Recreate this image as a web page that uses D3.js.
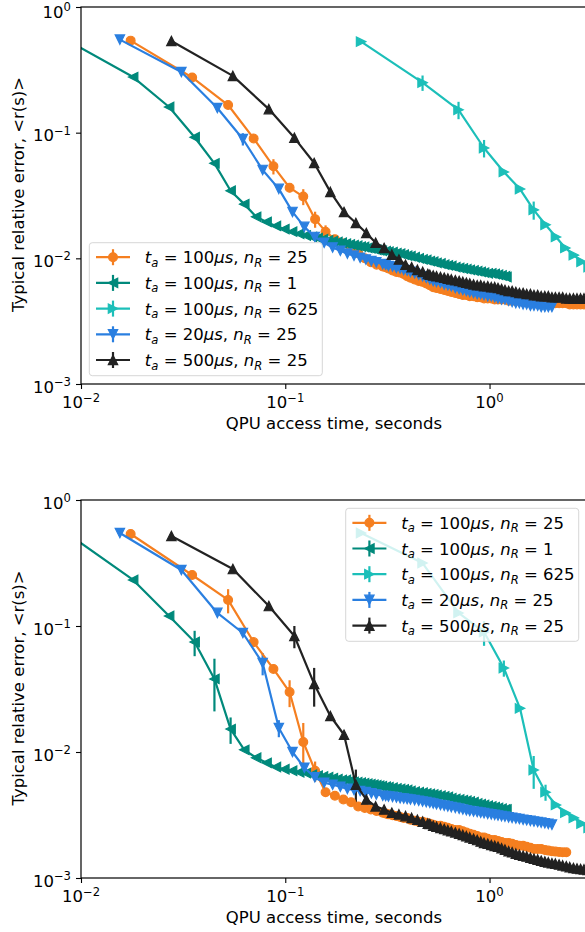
<!DOCTYPE html>
<html>
<head>
<meta charset="utf-8">
<script src="https://cdn.jsdelivr.net/npm/d3@7"></script>
<style>
  body { margin: 0; background: #fff; }
  svg { display: block; font-family: "DejaVu Sans", sans-serif; }
  text { white-space: pre; }
</style>
</head>
<body>
<div id="chart"></div>
<script>
// ---- data: top panel ----
const topOrangeT = [0.0175,0.035,0.0525,0.07,0.0875,0.105,0.1225,0.14,0.1575,0.175,0.1925,0.21,0.2275,0.245,0.2625,0.28,
  0.30,0.31,0.32,0.335,0.35,0.365,0.38,0.395,0.41,0.43,0.45,0.47,0.49,0.51,0.53,0.55,0.575,0.60,0.625,0.65,0.68,0.71,0.74,0.77,0.80,0.835,0.87,0.905,0.94,0.98,1.02,1.06,1.10,1.145,1.19,1.24,1.29,1.345,1.40,1.46,1.52,1.585,1.65,1.72,1.79,1.865,1.94,2.02,2.10,2.19,2.28,2.375,2.47,2.575,2.68,2.79,2.90];
const topOrangeR = [0.54,0.275,0.166,0.090,0.054,0.0365,0.031,0.0205,0.0163,0.0142,0.0131,0.0120,0.0110,0.0100,0.0093,0.0089,
  0.0086,0.0085,0.0083,0.0080,0.0078,0.0077,0.0075,0.0072,0.0070,0.0068,0.0066,0.0065,0.0063,0.0061,0.0059,0.0058,0.0057,0.0056,0.0055,0.0054,0.0053,0.0052,0.0051,0.0051,0.0050,0.0050,0.0049,0.0049,0.0048,0.0048,0.0048,0.0047,0.0047,0.0047,0.0047,0.0046,0.0046,0.0046,0.0046,0.0045,0.0045,0.0045,0.0045,0.0045,0.0045,0.0044,0.0044,0.0044,0.0044,0.0044,0.0044,0.0044,0.0043,0.0043,0.0043,0.0043,0.0043];
const topOrangeE = [0,0,0,0,0.0075,0.003,0.0045,0.003,0.002];

const topTealT = [0.009,0.018,0.027,0.036,0.045,0.054,0.063,0.072,0.081,0.090,0.099,0.108,0.117,0.126,0.135,0.144,0.153,0.162,0.171,0.18,0.189,0.198,0.207,0.216,0.225,0.234,0.243,0.252,0.261,0.270,0.279,0.288,0.297,
  0.31,0.32,0.335,0.35,0.365,0.38,0.395,0.41,0.43,0.45,0.47,0.49,0.51,0.53,0.55,0.575,0.60,0.625,0.65,0.68,0.71,0.74,0.77,0.80,0.835,0.87,0.905,0.94,0.98,1.02,1.06,1.10,1.145,1.19,1.21];
const topTealR = [0.52,0.277,0.160,0.092,0.057,0.0345,0.027,0.0214,0.0195,0.0181,0.0171,0.0163,0.0157,0.0152,0.0148,0.0145,0.0142,0.0139,0.0137,0.0135,0.0133,0.0131,0.0129,0.0127,0.0126,0.0124,0.0123,0.0121,0.0120,0.0119,0.0117,0.0116,0.0115,
  0.0114,0.0113,0.0112,0.0110,0.0109,0.0107,0.0105,0.0104,0.0102,0.0100,0.0098,0.0097,0.0095,0.0094,0.0092,0.0091,0.0089,0.0088,0.0087,0.0085,0.0084,0.0083,0.0082,0.0081,0.0080,0.0079,0.0078,0.0077,0.0076,0.0076,0.0075,0.0074,0.0073,0.0072,0.0071];
const topTealE = [];

const topCyanT = [0.235,0.47,0.705,0.94,1.175,1.41,1.645,1.88,2.115,2.35,2.585,2.82,3.055];
const topCyanR = [0.53,0.25,0.152,0.0755,0.0487,0.0356,0.0243,0.0185,0.0148,0.0121,0.0106,0.0094,0.0085];
const topCyanE = [0,0.035,0.024,0.012,0,0,0.004];

const topBlueT = [0.0155,0.031,0.0465,0.062,0.0775,0.093,0.1085,0.124,0.1395,0.155,0.1705,0.186,0.2015,0.217,0.2325,0.248,0.264,0.279,
  0.30,0.31,0.32,0.335,0.35,0.365,0.38,0.395,0.41,0.43,0.45,0.47,0.49,0.51,0.53,0.55,0.575,0.60,0.625,0.65,0.68,0.71,0.74,0.77,0.80,0.835,0.87,0.905,0.94,0.98,1.02,1.06,1.10,1.145,1.19,1.24,1.29,1.345,1.40,1.46,1.52,1.585,1.65,1.72,1.79,1.865,1.94,2.02];
const topBlueR = [0.55,0.304,0.157,0.089,0.0505,0.0357,0.0234,0.0178,0.0148,0.0133,0.0122,0.0115,0.0109,0.0105,0.0101,0.0098,0.0095,0.0093,
  0.0090,0.0089,0.0087,0.0086,0.0084,0.0083,0.0081,0.0080,0.0078,0.0076,0.0074,0.0072,0.0070,0.0068,0.0066,0.0065,0.0064,0.0062,0.0061,0.0060,0.0058,0.0057,0.0056,0.0055,0.0054,0.0053,0.0052,0.0052,0.0051,0.0050,0.0050,0.0049,0.0048,0.0047,0.0047,0.0046,0.0045,0.0044,0.0044,0.0043,0.0043,0.0042,0.0042,0.0042,0.0041,0.0041,0.0041,0.0041];
const topBlueE = [0,0,0,0.01];

const topBlackT = [0.0277,0.0554,0.0831,0.1108,0.1385,0.1662,0.1939,0.2216,0.2493,0.277,0.3047,0.3324,0.3601,0.3878,0.4155,0.4432,0.4709,0.4986,
  0.51,0.53,0.55,0.575,0.60,0.625,0.65,0.68,0.71,0.74,0.77,0.80,0.835,0.87,0.905,0.94,0.98,1.02,1.06,1.10,1.145,1.19,1.24,1.29,1.345,1.40,1.46,1.52,1.585,1.65,1.72,1.79,1.865,1.94,2.02,2.10,2.19,2.28,2.375,2.47,2.575,2.68,2.79,2.90,3.02];
const topBlackR = [0.537,0.283,0.154,0.091,0.0574,0.0338,0.0234,0.0191,0.0159,0.0133,0.0121,0.0107,0.0098,0.0089,0.0085,0.0081,0.0078,0.0075,
  0.0074,0.0073,0.0072,0.0071,0.0070,0.0069,0.0068,0.0067,0.0066,0.0065,0.0064,0.0063,0.0062,0.0061,0.0061,0.0060,0.0060,0.0059,0.0059,0.0058,0.0057,0.0056,0.0055,0.0055,0.0054,0.0053,0.0053,0.0052,0.0052,0.0051,0.0051,0.0050,0.0050,0.0050,0.0049,0.0049,0.0049,0.0049,0.0048,0.0048,0.0048,0.0048,0.0048,0.0048,0.0048];
const topBlackE = [];

// ---- data: bottom panel ----
const botOrangeT = [0.0175,0.035,0.0525,0.07,0.0875,0.105,0.1225,0.14,0.1575,0.175,0.1925,0.21,0.2275,0.245,0.2625,0.28,
  0.30,0.31,0.32,0.335,0.35,0.365,0.38,0.395,0.41,0.43,0.45,0.47,0.49,0.51,0.53,0.55,0.575,0.60,0.625,0.65,0.68,0.71,0.74,0.77,0.80,0.835,0.87,0.905,0.94,0.98,1.02,1.06,1.10,1.145,1.19,1.24,1.29,1.345,1.40,1.46,1.52,1.585,1.65,1.72,1.79,1.865,1.94,2.02,2.10,2.19,2.28,2.375];
const botOrangeR = [0.537,0.254,0.161,0.0746,0.0456,0.0299,0.0120,0.0071,0.0048,0.0045,0.0042,0.0040,0.0037,0.0036,0.0035,0.0034,
  0.0033,0.00325,0.0032,0.00315,0.0031,0.00305,0.0030,0.0030,0.0029,0.00285,0.0028,0.0028,0.00275,0.0027,0.00265,0.0026,0.0026,0.00255,0.0025,0.00245,0.0024,0.0024,0.00235,0.0023,0.00225,0.0022,0.00215,0.0021,0.0021,0.00205,0.0020,0.0020,0.00197,0.00193,0.0019,0.0019,0.00187,0.00183,0.0018,0.0018,0.00177,0.00174,0.0017,0.0017,0.0017,0.00167,0.00165,0.00163,0.00162,0.00161,0.0016,0.0016];
const botOrangeE = [0,0,0.035,0,0,0.0072,0.005,0.0013];

const botTealT = [0.009,0.018,0.027,0.036,0.045,0.054,0.063,0.072,0.081,0.090,0.099,0.108,0.117,0.126,0.135,0.144,0.153,0.162,0.171,0.18,0.189,0.198,0.207,0.216,0.225,0.234,0.243,0.252,0.261,0.270,0.279,0.288,0.297,
  0.31,0.32,0.335,0.35,0.365,0.38,0.395,0.41,0.43,0.45,0.47,0.49,0.51,0.53,0.55,0.575,0.60,0.625,0.65,0.68,0.71,0.74,0.77,0.80,0.835,0.87,0.905,0.94,0.98,1.02,1.06,1.10,1.145,1.19,1.21];
const botTealR = [0.514,0.232,0.120,0.0746,0.038,0.0152,0.0104,0.0090,0.0082,0.0076,0.0073,0.0071,0.0069,0.0068,0.0066,0.0065,0.0064,0.0063,0.0062,0.0061,0.0060,0.0060,0.0059,0.0058,0.00575,0.0057,0.00565,0.0056,0.00555,0.0055,0.00545,0.0054,0.00535,
  0.0053,0.00525,0.0052,0.00515,0.0051,0.00505,0.0050,0.0049,0.00485,0.0048,0.00475,0.0047,0.00465,0.0046,0.00455,0.0045,0.00445,0.0044,0.0043,0.00425,0.0042,0.00415,0.0041,0.00405,0.0040,0.0039,0.00385,0.0038,0.00375,0.0037,0.00365,0.0036,0.00355,0.0035,0.0035];
const botTealE = [0,0,0,0.017,0.017,0.0036];

const botCyanT = [0.235,0.47,0.705,0.94,1.175,1.41,1.645,1.88,2.115,2.35,2.585,2.82,3.055];
const botCyanR = [0.547,0.316,0.127,0.0896,0.0464,0.0222,0.0072,0.0048,0.0038,0.0033,0.0030,0.0027,0.0025];
const botCyanE = [0,0,0,0.02,0.0068,0,0.0021,0.0007];

const botBlueT = [0.0155,0.031,0.0465,0.062,0.0775,0.093,0.1085,0.124,0.1395,0.155,0.1705,0.186,0.2015,0.217,0.2325,0.248,0.264,0.279,
  0.30,0.31,0.32,0.335,0.35,0.365,0.38,0.395,0.41,0.43,0.45,0.47,0.49,0.51,0.53,0.55,0.575,0.60,0.625,0.65,0.68,0.71,0.74,0.77,0.80,0.835,0.87,0.905,0.94,0.98,1.02,1.06,1.10,1.145,1.19,1.24,1.29,1.345,1.40,1.46,1.52,1.585,1.65,1.72,1.79,1.865,1.94,2.02];
const botBlueR = [0.547,0.278,0.127,0.088,0.0508,0.0155,0.0100,0.0075,0.0063,0.0057,0.0055,0.0053,0.0051,0.0050,0.0049,0.0048,0.0047,0.0046,
  0.0045,0.00447,0.00443,0.0044,0.00435,0.0043,0.00427,0.00423,0.0042,0.00415,0.0041,0.00405,0.0040,0.00395,0.0039,0.00385,0.0038,0.00375,0.0037,0.00365,0.0036,0.00355,0.0035,0.00345,0.0034,0.00337,0.00334,0.0033,0.00327,0.00323,0.0032,0.00317,0.00313,0.0031,0.00307,0.00303,0.0030,0.00297,0.00294,0.0029,0.00287,0.00284,0.00281,0.00278,0.00275,0.00272,0.00269,0.00265];
const botBlueE = [0,0,0,0,0.0102,0.0024];

const botBlackT = [0.0277,0.0554,0.0831,0.1108,0.1385,0.1662,0.1939,0.2216,0.2493,0.277,0.3047,0.3324,0.3601,0.3878,0.4155,0.4432,0.4709,0.4986,
  0.51,0.53,0.55,0.575,0.60,0.625,0.65,0.68,0.71,0.74,0.77,0.80,0.835,0.87,0.905,0.94,0.98,1.02,1.06,1.10,1.145,1.19,1.24,1.29,1.345,1.40,1.46,1.52,1.585,1.65,1.72,1.79,1.865,1.94,2.02,2.10,2.19,2.28,2.375,2.47,2.575,2.68,2.79,2.90,3.02];
const botBlackR = [0.518,0.283,0.144,0.0833,0.0347,0.0193,0.0137,0.0055,0.0042,0.0037,0.0035,0.0033,0.0032,0.0031,0.0030,0.0029,0.0028,0.0027,
  0.00268,0.0026,0.00255,0.0025,0.00245,0.0024,0.00235,0.0023,0.00225,0.0022,0.00215,0.0021,0.00205,0.0020,0.00195,0.0019,0.00187,0.00183,0.0018,0.00177,0.00172,0.00168,0.00163,0.0016,0.00156,0.00153,0.0015,0.00148,0.00145,0.00142,0.0014,0.00137,0.00135,0.00133,0.00131,0.0013,0.00128,0.00126,0.00124,0.00122,0.0012,0.00119,0.00118,0.00117,0.00116];
const botBlackE = [0,0,0,0.0167,0.0118,0,0,0.00175];

// ---- legend / series styling ----
const legendTa = ["100", "100", "100", "20", "500"];
const legendNr = ["25", "1", "625", "25", "25"];
const colors = ["#f57f20", "#00897b", "#1cbfb9", "#2a7fe0", "#222222"];
const markers = ["o", "<", ">", "v", "^"];

const xMajor = [0.01, 0.1, 1];
const xMajorExp = ["\u22122", "\u22121", "0"];
const yMajor = [0.001, 0.01, 0.1, 1];
const yMajorExp = ["\u22123", "\u22122", "\u22121", "0"];

const xLabel = "QPU access time, seconds";
const yLabel = "Typical relative error, <r(s)>";

// ---- layout ----
const width = 585, height = 932;
const left = 81, right = 587;
const FS = 16.5, SUP = 11.6;
const LW = 2.2;

const panels = [
  { top: 7, bottom: 384, legend: { x: 89.3, y: 242.7 },
    series: [[topOrangeT, topOrangeR, topOrangeE], [topTealT, topTealR, topTealE], [topCyanT, topCyanR, topCyanE],
             [topBlueT, topBlueR, topBlueE], [topBlackT, topBlackR, topBlackE]] },
  { top: 500, bottom: 878, legend: { x: 345.7, y: 508.3 },
    series: [[botOrangeT, botOrangeR, botOrangeE], [botTealT, botTealR, botTealE], [botCyanT, botCyanR, botCyanE],
             [botBlueT, botBlueR, botBlueE], [botBlackT, botBlackR, botBlackE]] }
];

const svg = d3.select("#chart").append("svg")
    .attr("width", width)
    .attr("height", height);

function markerPath(type, h) {
  switch (type) {
    case "o": return `M${-h},0a${h},${h} 0 1,0 ${2*h},0a${h},${h} 0 1,0 ${-2*h},0Z`;
    case "^": return `M0,${-h}L${h},${h}L${-h},${h}Z`;
    case "v": return `M0,${h}L${h},${-h}L${-h},${-h}Z`;
    case "<": return `M${-h},0L${h},${-h}L${h},${h}Z`;
    case ">": return `M${h},0L${-h},${-h}L${-h},${h}Z`;
  }
}
const markerSize = t => t === "o" ? 4.4 : 4.7;

function powLabel(sel, exp) {
  sel.append("tspan").text("10");
  sel.append("tspan").attr("font-size", SUP).attr("dy", -6.5).text(exp);
}

panels.forEach((p, pi) => {
  const x = d3.scaleLog().domain([0.01, 3]).range([left, right]);
  const y = d3.scaleLog().domain([0.001, 1]).range([p.bottom, p.top]);
  const g = svg.append("g");

  const clipId = "clip" + pi;
  svg.append("clipPath").attr("id", clipId)
     .append("rect").attr("x", left).attr("y", p.top)
     .attr("width", right - left).attr("height", p.bottom - p.top);

  // minor + major ticks
  const xMinor = [], yMinor = [];
  [0.01, 0.1, 1].forEach(d => { for (let k = 2; k <= 9; k++) if (d * k <= 3) xMinor.push(d * k); });
  [0.001, 0.01, 0.1].forEach(d => { for (let k = 2; k <= 9; k++) yMinor.push(d * k); });

  const axX = g.append("g").attr("transform", `translate(0,${p.bottom})`);
  axX.call(d3.axisBottom(x).tickValues(xMinor).tickSize(3).tickFormat(""));
  axX.call(d3.axisBottom(x).tickValues(xMajor).tickSize(5).tickFormat(""));
  const axY = g.append("g").attr("transform", `translate(${left},0)`);
  axY.call(d3.axisLeft(y).tickValues(yMinor).tickSize(3).tickFormat(""));
  axY.call(d3.axisLeft(y).tickValues(yMajor).tickSize(5).tickFormat(""));
  g.selectAll(".domain").remove();
  g.selectAll(".tick line").attr("stroke", "#000").attr("stroke-width", 1.1);

  // tick labels
  xMajor.forEach((v, i) => {
    const t = g.append("text").attr("x", x(v)).attr("y", p.bottom + 24)
      .attr("text-anchor", "middle").attr("font-size", FS).attr("fill", "#000");
    powLabel(t, xMajorExp[i]);
  });
  yMajor.forEach((v, i) => {
    // keep the topmost label inside the page
    const yy = Math.max(y(v) + 8.5, 17.5);
    const t = g.append("text").attr("x", left - 10).attr("y", yy)
      .attr("text-anchor", "end").attr("font-size", FS).attr("fill", "#000");
    powLabel(t, yMajorExp[i]);
  });

  // axis labels
  g.append("text").attr("x", (left + right) / 2).attr("y", p.bottom + 45)
    .attr("text-anchor", "middle").attr("font-size", FS).text(xLabel);
  g.append("text")
    .attr("transform", `translate(24,${(p.top + p.bottom) / 2 - 1}) rotate(-90)`)
    .attr("text-anchor", "middle").attr("font-size", FS).text(yLabel);

  // data
  const plot = svg.append("g").attr("clip-path", `url(#${clipId})`);
  const seriesData = p.series.map(([t, r, e]) => t.map((tv, i) => ({ t: tv, r: r[i], e: e[i] || 0 })));

  // error bars (drawn under all data lines, as matplotlib does)
  seriesData.forEach((data, si) => {
    plot.append("g").selectAll("line")
      .data(data.filter(d => d.e > 0))
      .join("line")
      .attr("x1", d => x(d.t)).attr("x2", d => x(d.t))
      .attr("y1", d => y(Math.max(d.r - d.e, 1e-4))).attr("y2", d => y(d.r + d.e))
      .attr("stroke", colors[si]).attr("stroke-width", LW);
  });

  const line = d3.line().x(d => x(d.t)).y(d => y(d.r));
  seriesData.forEach((data, si) => {
    const sg = plot.append("g");
    sg.append("path").datum(data).attr("d", line)
      .attr("fill", "none").attr("stroke", colors[si]).attr("stroke-width", LW)
      .attr("stroke-linejoin", "round");
    sg.selectAll("path.mk").data(data).join("path").attr("class", "mk")
      .attr("transform", d => `translate(${x(d.t)},${y(d.r)})`)
      .attr("d", markerPath(markers[si], markerSize(markers[si])))
      .attr("fill", colors[si]).attr("stroke", colors[si]).attr("stroke-width", 1.2)
      .attr("stroke-linejoin", "miter");
  });

  // spines (right one sits just outside the page)
  g.append("rect").attr("x", left).attr("y", p.top)
    .attr("width", right - left).attr("height", p.bottom - p.top)
    .attr("fill", "none").attr("stroke", "#000").attr("stroke-width", 1.2);
  g.raise();

  // legend
  const lg = svg.append("g").attr("transform", `translate(${p.legend.x},${p.legend.y})`);
  lg.append("rect").attr("width", 233).attr("height", 133).attr("rx", 3)
    .attr("fill", "#fff").attr("fill-opacity", 0.8)
    .attr("stroke", "#cccccc").attr("stroke-opacity", 0.8).attr("stroke-width", 1);
  legendTa.forEach((ta, i) => {
    const cy = 14.5 + i * 25.7;
    const row = lg.append("g").attr("transform", `translate(0,${cy})`);
    row.append("line").attr("x1", 6.7).attr("x2", 40.7).attr("y1", 0).attr("y2", 0)
      .attr("stroke", colors[i]).attr("stroke-width", LW);
    row.append("line").attr("x1", 23.7).attr("x2", 23.7).attr("y1", -8).attr("y2", 8)
      .attr("stroke", colors[i]).attr("stroke-width", LW);
    row.append("path").attr("transform", "translate(23.7,0)")
      .attr("d", markerPath(markers[i], markerSize(markers[i])))
      .attr("fill", colors[i]).attr("stroke", colors[i]).attr("stroke-width", 1.2);
    const tx = row.append("text").attr("x", 55.5).attr("y", 6).attr("font-size", FS).attr("fill", "#000");
    tx.append("tspan").attr("font-style", "italic").text("t");
    tx.append("tspan").attr("font-style", "italic").attr("font-size", SUP).attr("dy", 3.5).text("a");
    tx.append("tspan").attr("dy", -3.5).text(" = " + ta);
    tx.append("tspan").attr("font-style", "italic").text("\u03bcs");
    tx.append("tspan").text(", ");
    tx.append("tspan").attr("font-style", "italic").text("n");
    tx.append("tspan").attr("font-style", "italic").attr("font-size", SUP).attr("dy", 3.5).text("R");
    tx.append("tspan").attr("dy", -3.5).text(" = " + legendNr[i]);
  });
});
</script>
</body>
</html>
